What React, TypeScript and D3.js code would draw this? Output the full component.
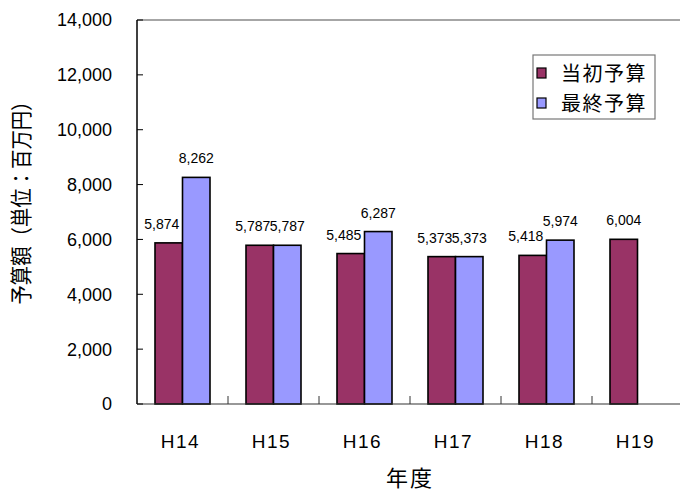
import React from "react";
import * as d3 from "d3";

const categories = ["H14", "H15", "H16", "H17", "H18", "H19"];
const initialBudget = [5874, 5787, 5485, 5373, 5418, 6004];
const finalBudget: (number | null)[] = [8262, 5787, 6287, 5373, 5974, null];
const yTicks = [0, 2000, 4000, 6000, 8000, 10000, 12000, 14000];
const seriesNames = ["当初予算", "最終予算"];
const colors = ["#993366", "#9999FF"];

const W = 680, H = 492;
const left = 137, right = 683, top = 20, bottom = 404;
const font = "'Liberation Sans', Arial, 'Noto Sans CJK JP', sans-serif";
const jpFont = "'Noto Sans CJK JP', sans-serif";

export default function App() {
  const x = d3.scaleBand<string>().domain(categories).range([left, right]).paddingInner(0).paddingOuter(0);
  const y = d3.scaleLinear().domain([0, 14000]).range([bottom, top]);
  const bw = x.bandwidth();
  const barW = 27.5;
  const groupOff = (bw - 2 * barW) / 2;
  const fmt = d3.format(",");

  return (
    <svg width={W} height={H} style={{ position: "absolute", left: 0, top: 0, background: "#fff" }}>
      <line x1={left} x2={W} y1={top} y2={top} stroke="#888" strokeWidth={1.5} />
      {categories.map((c, i) => {
        const x0 = (x(c) as number) + groupOff;
        const vals = [initialBudget[i], finalBudget[i]];
        return (
          <g key={c}>
            {vals.map((v, j) =>
              v == null ? null : (
                <rect key={j} x={x0 + j * barW} y={y(v)} width={barW} height={bottom - y(v)}
                  fill={colors[j]} stroke="#000" strokeWidth={1.6} />
              )
            )}
          </g>
        );
      })}
      {categories.map((c, i) => {
        const x0 = (x(c) as number) + groupOff;
        const vals = [initialBudget[i], finalBudget[i]];
        return vals.map((v, j) => {
          if (v == null) return null;
          const shift = j === 0 && finalBudget[i] != null ? -7 : 0;
          return (
            <text key={c + j} x={x0 + j * barW + barW / 2 + shift} y={y(v) - 14} textAnchor="middle"
              fontFamily={font} fontSize={14} fill="#000">{fmt(v)}</text>
          );
        });
      })}
      <line x1={left} x2={left} y1={top} y2={bottom} stroke="#000" strokeWidth={1.5} />
      <line x1={left} x2={W} y1={bottom} y2={bottom} stroke="#333" strokeWidth={1.2} />
      {yTicks.map((t) => (
        <g key={t}>
          <line x1={left} x2={left + 6} y1={y(t)} y2={y(t)} stroke="#000" strokeWidth={1} />
          <text x={112} y={y(t)} dy="0.36em" textAnchor="end" fontFamily={font} fontSize={18} fill="#000">{fmt(t)}</text>
        </g>
      ))}
      {categories.map((c) => (
        <g key={c}>
          <line x1={(x(c) as number) + bw} x2={(x(c) as number) + bw} y1={bottom} y2={bottom - 8} stroke="#333" strokeWidth={1} />
          <text x={(x(c) as number) + bw / 2 - 2} y={448} textAnchor="middle" fontFamily={font} fontSize={19} letterSpacing={1.5} fill="#000">{c}</text>
        </g>
      ))}
      <text x={410} y={486} textAnchor="middle" fontFamily={jpFont} fontSize={22} letterSpacing={2} fill="#000">年度</text>
      <text transform={`translate(29,198) rotate(-90)`} textAnchor="middle" fontFamily={jpFont} fontSize={22}
        textLength={213} lengthAdjust="spacingAndGlyphs" fill="#000">予算額（単位：百万円）</text>
      <rect x={533} y={55} width={122} height={64} fill="#fff" stroke="#777" strokeWidth={1.2} />
      {seriesNames.map((n, i) => (
        <g key={n}>
          <rect x={537} y={68 + i * 30} width={9} height={10} fill={colors[i]} stroke="#000" strokeWidth={1.2} />
          <text x={561} y={74 + i * 30} dy="0.36em" fontFamily={jpFont} fontSize={20} letterSpacing={1.5} fill="#000">{n}</text>
        </g>
      ))}
    </svg>
  );
}
